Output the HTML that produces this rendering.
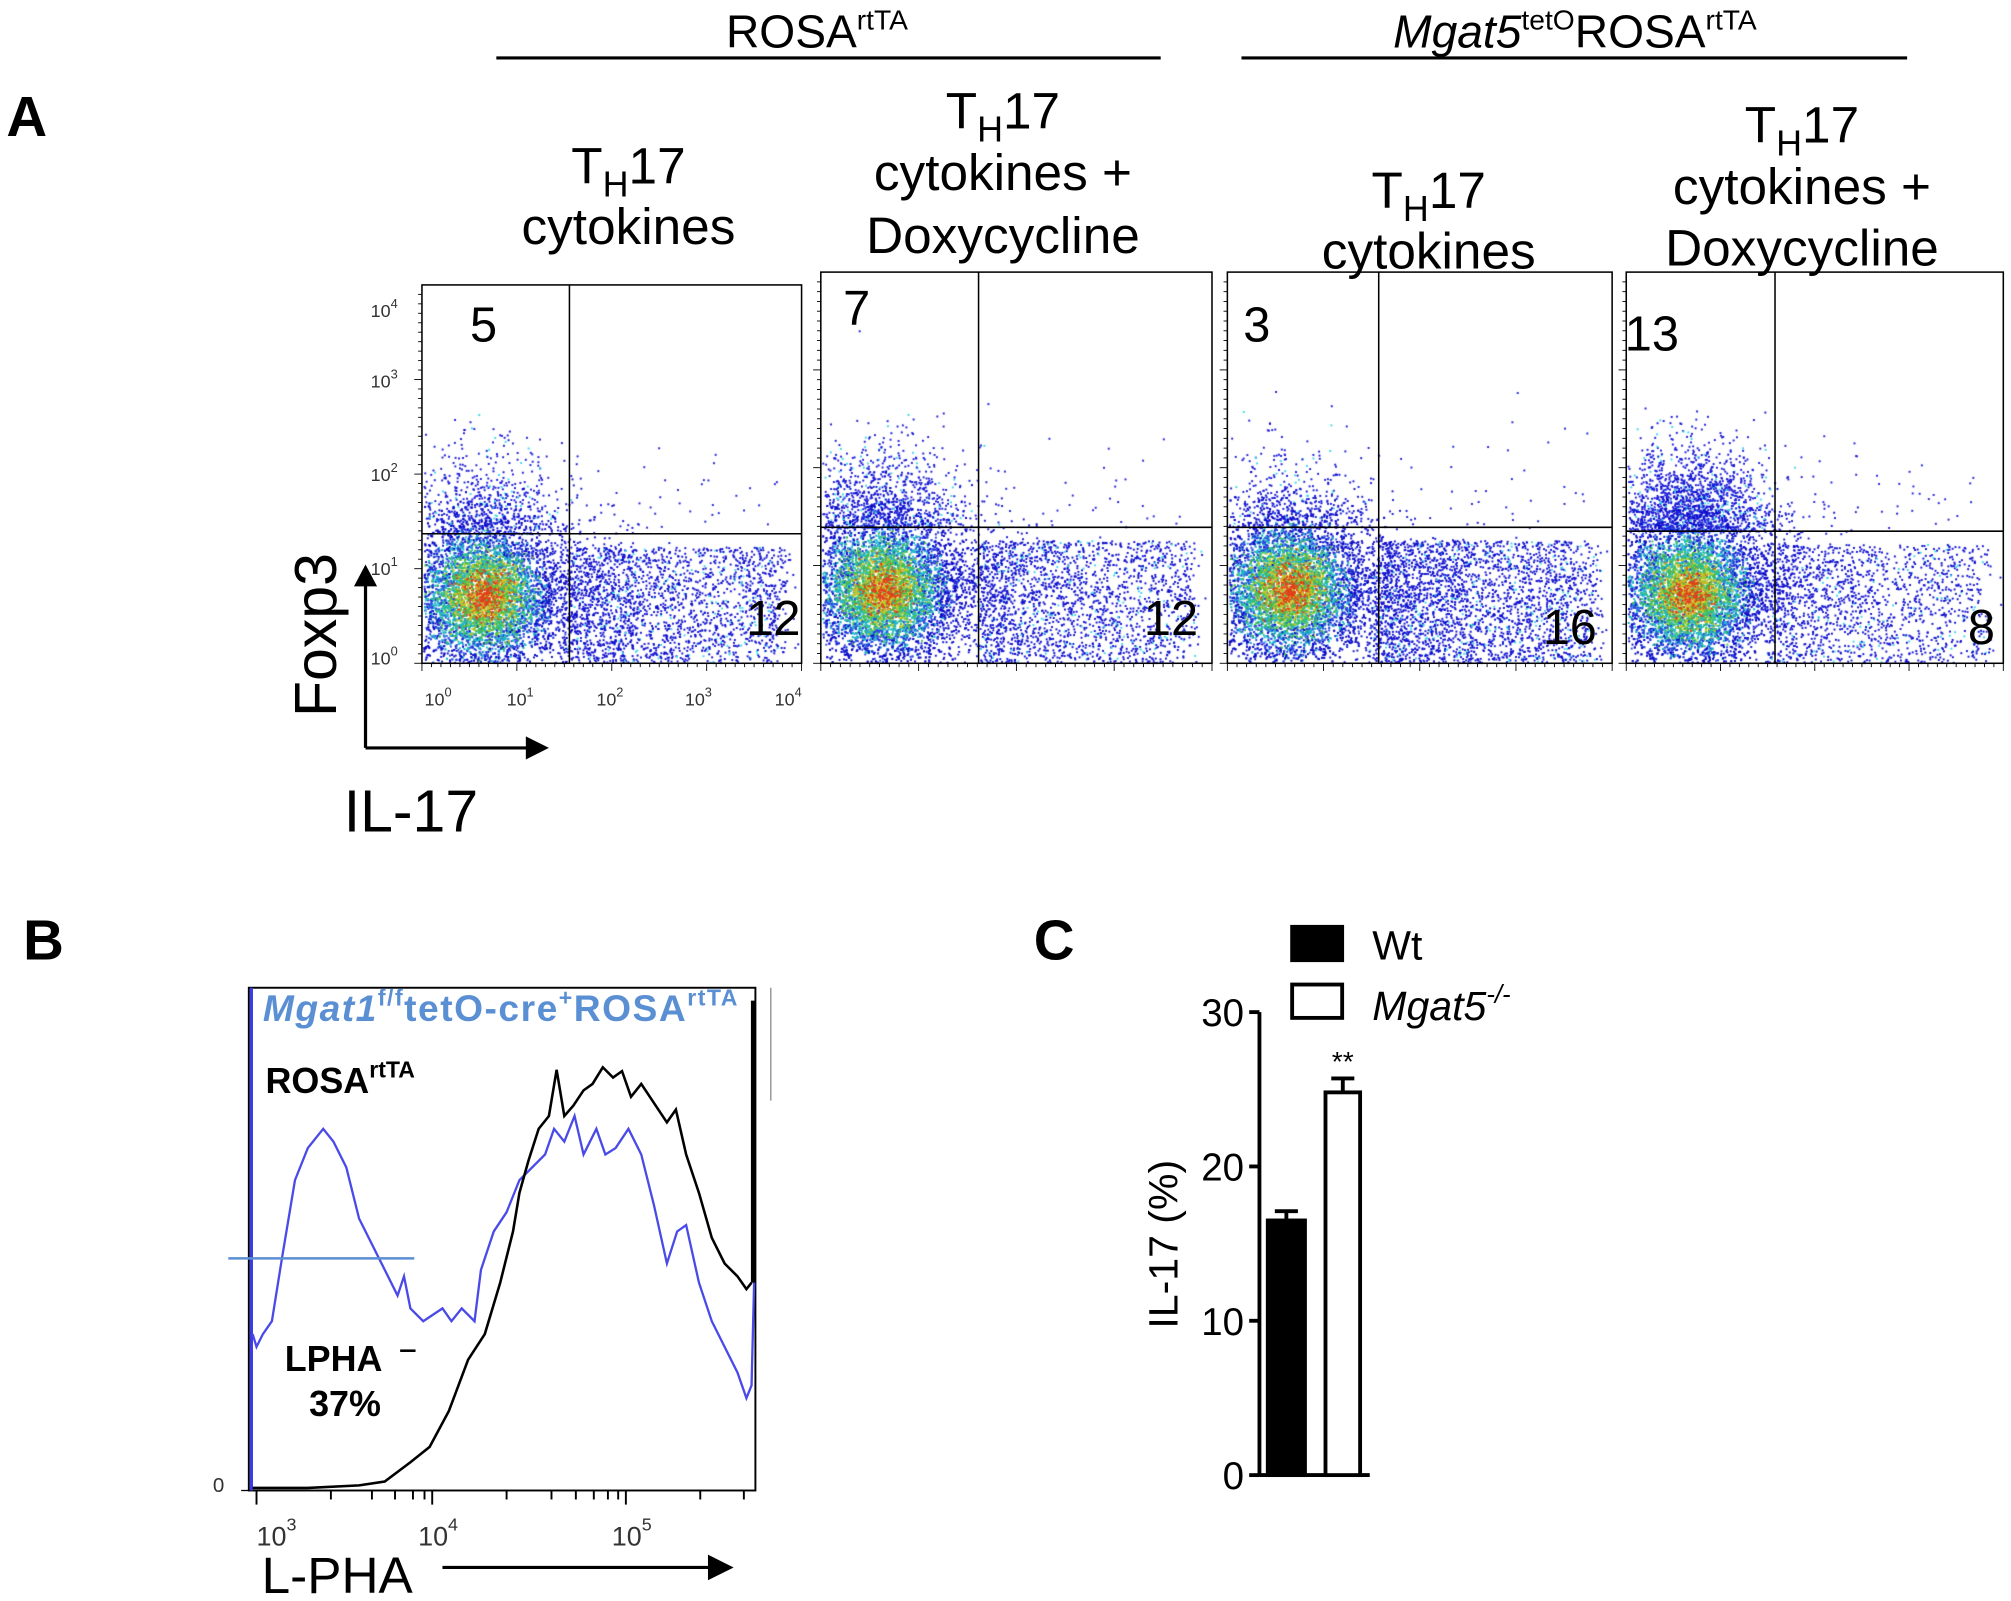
<!DOCTYPE html>
<html><head><meta charset="utf-8"><style>
html,body{margin:0;padding:0;background:#fff}
#wrap{position:relative;width:2011px;height:1601px;overflow:hidden}
canvas,svg{position:absolute;left:0;top:0}
text{font-family:"Liberation Sans",Arial,sans-serif}
</style></head><body>
<div id="wrap">
<canvas id="cv" width="2011" height="1601"></canvas>
<svg id="sv" width="2011" height="1601" viewBox="0 0 1568 1248">
<g>
<text x="5" y="106" font-size="44" font-weight="bold">A</text>
<text x="637" y="37" font-size="36" text-anchor="middle">ROSA<tspan font-size="22" dy="-14">rtTA</tspan></text>
<line x1="387" y1="45" x2="905" y2="45" stroke="#000" stroke-width="2.5"/>
<text x="1228" y="37" font-size="36" text-anchor="middle"><tspan font-style="italic">Mgat5</tspan><tspan font-size="22" dy="-14">tetO</tspan><tspan dy="14">ROSA</tspan><tspan font-size="22" dy="-14">rtTA</tspan></text>
<line x1="968" y1="45" x2="1487" y2="45" stroke="#000" stroke-width="2.5"/>
<g font-size="40" text-anchor="middle">
<text x="490" y="143">T<tspan font-size="28" dy="10">H</tspan><tspan dy="-10">17</tspan></text>
<text x="490" y="190">cytokines</text>
<text x="782" y="100">T<tspan font-size="28" dy="10">H</tspan><tspan dy="-10">17</tspan></text>
<text x="782" y="148">cytokines +</text>
<text x="782" y="197">Doxycycline</text>
<text x="1114" y="162">T<tspan font-size="28" dy="10">H</tspan><tspan dy="-10">17</tspan></text>
<text x="1114" y="209">cytokines</text>
<text x="1405" y="111">T<tspan font-size="28" dy="10">H</tspan><tspan dy="-10">17</tspan></text>
<text x="1405" y="159">cytokines +</text>
<text x="1405" y="207">Doxycycline</text>
</g>
<g id="plots"></g>
<g font-size="14" fill="#333">
<text x="289" y="247">10<tspan font-size="10" dy="-7">4</tspan></text>
<text x="289" y="302">10<tspan font-size="10" dy="-7">3</tspan></text>
<text x="289" y="375">10<tspan font-size="10" dy="-7">2</tspan></text>
<text x="289" y="448">10<tspan font-size="10" dy="-7">1</tspan></text>
<text x="289" y="518">10<tspan font-size="10" dy="-7">0</tspan></text>
</g>
<g font-size="14" fill="#333">
<text x="331" y="550">10<tspan font-size="10" dy="-7">0</tspan></text>
<text x="395" y="550">10<tspan font-size="10" dy="-7">1</tspan></text>
<text x="465" y="550">10<tspan font-size="10" dy="-7">2</tspan></text>
<text x="534" y="550">10<tspan font-size="10" dy="-7">3</tspan></text>
<text x="604" y="550">10<tspan font-size="10" dy="-7">4</tspan></text>
</g>
<text transform="translate(262,495) rotate(-90)" font-size="46" text-anchor="middle">Foxp3</text>
<line x1="285" y1="583" x2="285" y2="455" stroke="#000" stroke-width="2.5"/>
<polygon points="285,440 276,457 294,457"/>
<line x1="285" y1="583" x2="412" y2="583" stroke="#000" stroke-width="2.5"/>
<polygon points="428,583 410,574 410,592"/>
<text x="268" y="648" font-size="46">IL-17</text>
</g>
<g>
<text x="18" y="748" font-size="44" font-weight="bold">B</text>
<rect x="194" y="770" width="395" height="392" fill="none" stroke="#000" stroke-width="1.5"/>
<line x1="601" y1="770" x2="601" y2="858" stroke="#888" stroke-width="1"/>
<g id="histo"></g>
<line x1="178" y1="981" x2="323" y2="981" stroke="#5b8fd4" stroke-width="2"/>
<text x="205" y="796" font-size="29" font-weight="bold" font-style="italic" fill="#5b8fd4" textLength="370">Mgat1<tspan font-size="18" dy="-12" font-style="normal">f/f</tspan><tspan dy="12" font-style="normal">tetO-cre</tspan><tspan font-size="18" dy="-12" font-style="normal">+</tspan><tspan dy="12" font-style="normal">ROSA</tspan><tspan font-size="18" dy="-12" font-style="normal">rtTA</tspan></text>
<text x="207" y="852" font-size="28" font-weight="bold">ROSA<tspan font-size="18" dy="-12">rtTA</tspan></text>
<text x="222" y="1069" font-size="28" font-weight="bold">LPHA</text>
<line x1="312" y1="1053" x2="324" y2="1053" stroke="#000" stroke-width="2"/>
<text x="241" y="1104" font-size="28" font-weight="bold">37%</text>
<text x="166" y="1163" font-size="16" fill="#333">0</text>
<line x1="188" y1="1162" x2="194" y2="1162" stroke="#000"/>
<g id="bticks"></g>
<g font-size="21" fill="#333">
<text x="200" y="1205">10<tspan font-size="14" dy="-12">3</tspan></text>
<text x="326" y="1205">10<tspan font-size="14" dy="-12">4</tspan></text>
<text x="477" y="1205">10<tspan font-size="14" dy="-12">5</tspan></text>
</g>
<text x="204" y="1242" font-size="40">L-PHA</text>
<line x1="345" y1="1222" x2="555" y2="1222" stroke="#000" stroke-width="2.5"/>
<polygon points="572,1222 552,1212 552,1232"/>
</g>
<g>
<text x="806" y="748" font-size="44" font-weight="bold">C</text>
<rect x="1006" y="721" width="42" height="29" fill="#000"/>
<text x="1070" y="748" font-size="32">Wt</text>
<rect x="1007.5" y="767.5" width="39" height="26" fill="#fff" stroke="#000" stroke-width="3"/>
<text x="1070" y="795" font-size="32" font-style="italic">Mgat5<tspan font-size="20" dy="-13">-/-</tspan></text>
<text transform="translate(918,970) rotate(-90)" font-size="32" text-anchor="middle">IL-17 (%)</text>
<g id="cchart"></g>
</g>
</svg>
</div>
<script>
// ---- Panel C data ----
const cCategories = ["Wt", "Mgat5-/-"];
const cValues = [16.5, 24.8];
const cErrors = [0.6, 0.9];
const cTicks = [0, 10, 20, 30];
// ---- Panel A data ----
const aPercentUL = [5, 7, 3, 13];
const aPercentLR = [12, 12, 16, 8];
// ---- Panel B histogram data (channel, count) ----
const bBlackCh = [3,46,86,106,126,141,156,171,184,196,206,211,218,226,234,240,246,253,261,268,276,284,291,298,306,316,326,333,341,351,361,371,381,388,392];
const bBlackCt = [2,2,4,7,22,34,62,102,122,162,202,232,257,282,292,328,292,300,312,317,330,322,327,307,317,302,287,297,262,232,197,177,167,157,162];
const bBlueCh = [3,6,11,18,26,36,46,58,66,76,86,96,106,116,121,126,136,151,158,166,176,181,191,201,211,221,231,238,246,254,261,271,278,286,296,306,316,326,334,341,351,361,371,381,388,392,394];
const bBlueCt = [122,112,122,132,182,242,267,282,272,252,212,192,172,152,167,142,132,142,132,142,132,172,202,217,242,252,262,282,272,292,262,282,262,267,282,262,222,177,202,207,162,132,112,92,72,82,162];

const NS = "http://www.w3.org/2000/svg";
function mk(tag, attrs, parent){const e=document.createElementNS(NS,tag);for(const k in attrs)e.setAttribute(k,attrs[k]);parent.appendChild(e);return e;}

// Panel C chart
(function(){
  const g=document.getElementById('cchart');
  const y0=1150, y30=789, ax=982;
  const yS=v=>y0-(v/30)*(y0-y30);
  const barX=[987,1032], barW=[32,30];
  const ax1=mk('line',{x1:ax,y1:yS(30),x2:ax,y2:y0,stroke:'#000','stroke-width':3},g);
  
  
  const xa=mk('line',{x1:ax,y1:y0,x2:1068,y2:y0,stroke:'#000','stroke-width':3},g);
  
  
  cTicks.forEach(t=>{
    mk('line',{x1:ax-8,y1:yS(t),x2:ax,y2:yS(t),stroke:'#000','stroke-width':3},g);
    const tx=mk('text',{x:ax-12,y:yS(t)+11,'font-size':30,'text-anchor':'end'},g);
    tx.textContent=t;
    
    
  });
  cValues.forEach((v,i)=>{
    const top=yS(v), et=yS(v+cErrors[i]);
    const cx=barX[i]+barW[i]/2;
    mk('line',{x1:cx,y1:top,x2:cx,y2:et,stroke:'#000','stroke-width':3},g);
    mk('line',{x1:cx-9,y1:et,x2:cx+9,y2:et,stroke:'#000','stroke-width':3},g);
    const r=mk('rect',{x:barX[i]+1.5,y:top,width:barW[i]-3,height:y0-top,fill:i==0?'#000':'#fff',stroke:'#000','stroke-width':3},g);
    
    
  });
  const st=mk('text',{x:barX[1]+barW[1]/2,y:yS(cValues[1]+cErrors[1])-6,'font-size':22,'text-anchor':'middle'},g);
  st.textContent='**';
  
  
})();

// Panel B histograms
(function(){
  const g=document.getElementById('histo');
  const x0=194, base=1162;
  const xs=c=>x0+c, ys=v=>base-v;
  function path(ch,ct){let d='';ch.forEach((c,i)=>{d+=(i?'L':'M')+xs(c)+','+ys(ct[i]);});return d;}
  const bl=mk('path',{d:'M196,770 L196,1162',stroke:'#3a3ae8','stroke-width':2.5,fill:'none'},g);
  
  
  const p1=mk('path',{d:path(bBlueCh,bBlueCt),stroke:'#4a4ae8','stroke-width':1.8,fill:'none'},g);
  
  
  const p2=mk('path',{d:path(bBlackCh,bBlackCt),stroke:'#000','stroke-width':2,fill:'none'},g);
  
  
  mk('line',{x1:587,y1:780,x2:587,y2:1000,stroke:'#000','stroke-width':3},g);
  const bt=document.getElementById('bticks');
  [200,258,290,308,322,331,337,395,430,449,463,474,482,488,546,580].forEach((x,i)=>{
    mk('line',{x1:x,y1:1162,x2:x,y2:[200,337,488].includes(x)?1173:1169,stroke:'#000','stroke-width':1.5},bt);
  });
})();

// Panel A plots
const plots=[
 {x0:329,x1:625,y0:222,y1:517,vx:444,hy:416,ulx:377,uly:266,lrx:603,lry:495},
 {x0:640,x1:945,y0:212,y1:517,vx:763,hy:411,ulx:668,uly:253,lrx:913,lry:495},
 {x0:957,x1:1257,y0:212,y1:517,vx:1075,hy:411,ulx:980,uly:266,lrx:1224,lry:502},
 {x0:1268,x1:1562,y0:212,y1:517,vx:1384,hy:414,ulx:1288,uly:273,lrx:1545,lry:502}
];
(function(){
  const g=document.getElementById('plots');
  plots.forEach((p,i)=>{
    const r=mk('rect',{x:p.x0,y:p.y0,width:p.x1-p.x0,height:p.y1-p.y0,fill:'none',stroke:'#000','stroke-width':1.2},g);
    
    
    mk('line',{x1:p.vx,y1:p.y0,x2:p.vx,y2:p.y1,stroke:'#000','stroke-width':1.2},g);
    mk('line',{x1:p.x0,y1:p.hy,x2:p.x1,y2:p.hy,stroke:'#000','stroke-width':1.2},g);
    for(let t=0;t<40;t++){const y=p.y1-t*(p.y1-p.y0)/40;mk('line',{x1:p.x0-(t%10==0?6:3),y1:y,x2:p.x0,y2:y,stroke:'#000','stroke-width':0.7},g);}
    for(let t=0;t<=40;t++){const x=p.x0+t*(p.x1-p.x0)/40;mk('line',{x1:x,y1:p.y1,x2:x,y2:p.y1+(t%10==0?6:3),stroke:'#000','stroke-width':0.7},g);}
    const a=mk('text',{x:p.ulx,y:p.uly,'font-size':38,'text-anchor':'middle'},g);
    a.textContent=aPercentUL[i];
    
    
    const b=mk('text',{x:p.lrx,y:p.lry,'font-size':38,'text-anchor':'middle'},g);
    b.textContent=aPercentLR[i];
    
    
  });
})();

// dot clouds on canvas (deterministic)
(function(){
  const cv=document.getElementById('cv'), ctx=cv.getContext('2d');
  ctx.scale(2011/1568,1601/1248);
  let s=12345; const rnd=()=>{s=(s*1103515245+12345)&0x7fffffff;return s/0x7fffffff;};
  const gau=()=>{let u=rnd()||1e-6,v=rnd();return Math.sqrt(-2*Math.log(u))*Math.cos(2*Math.PI*v);};
  plots.forEach((p,i)=>{
    const clip=(x,y)=>x>p.x0+1&&x<p.x1-1&&y>p.y0+1&&y<p.y1-1;
    const cx=p.x0+48, cy=p.hy+48;
    const dot=(x,y,c)=>{if(clip(x,y)){ctx.fillStyle=c;ctx.fillRect(x,y,1.5,1.5);}};
    // lower-right population
    const nLR=aPercentLR[i]*160;
    for(let k=0;k<nLR;k++){const f=Math.pow(rnd(),1.15);const x=p.vx+f*(p.x1-p.vx-15)+gau()*6;const y=p.hy+10+rnd()*(p.y1-p.hy-10);dot(x,y,rnd()<0.08?'#3cd8e8':'#1010d0');}
    // spill from cluster across gate
    for(let k=0;k<500;k++){const x=cx+40+Math.abs(gau())*45;const y=cy+gau()*30;dot(x,y,'#1414d0');}
    // upper-left population
    const nUL=aPercentUL[i]*130;
    for(let k=0;k<nUL;k++){const x=cx+gau()*32;const y=p.hy-Math.abs(gau())*32;dot(x,y,rnd()<0.1?'#3cd8e8':'#1a1ad8');}
    // upper-right sparse
    for(let k=0;k<35;k++){const x=p.vx+rnd()*(p.x1-p.vx-20);const y=p.hy-Math.abs(gau())*35;dot(x,y,'#2020d8');}
    // main cluster with speckled density colour
    for(let k=0;k<8000;k++){const gx=gau(),gy=gau();const x=cx+gx*27,y=cy+gy*27;const r=Math.sqrt(gx*gx+gy*gy)+gau()*0.35;
      let c=r<0.35?'#e04018':r<0.7?'#c8c828':r<1.05?'#40c050':r<1.45?'#20b8c8':r<1.85?'#2848e0':'#0c0cc8';dot(x,y,c);}
  });
})();
</script>
</body></html>
